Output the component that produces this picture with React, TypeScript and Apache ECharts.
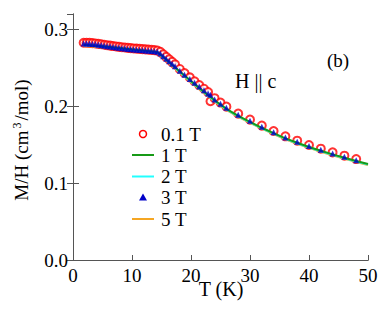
import React, { useEffect, useRef } from "react";
import * as echarts from "echarts";

// 0.1 T (open circles)
const t01 = [1.8, 2.3, 2.8, 3.3, 3.8, 4.3, 4.8, 5.3, 5.8, 6.3, 6.8, 7.3, 7.8, 8.3, 8.8, 9.3, 9.8, 10.3, 10.8, 11.3, 11.8, 12.3, 12.8, 13.3, 13.8, 14.3, 14.8, 15.3, 15.8, 16.3, 16.8, 17.3,
  18.1, 18.9, 19.8, 20.6, 21.4, 22.2, 22.9, 23.3, 24.0, 25.0, 26.0, 28, 30, 32, 34, 36, 38, 40, 42, 44, 46, 48];
const m01 = [0.2826, 0.2826, 0.2824, 0.2821, 0.2817, 0.2812, 0.2806, 0.2800, 0.2794, 0.2788, 0.2783, 0.2778, 0.2773, 0.2768, 0.2764, 0.2760, 0.2756, 0.2752, 0.2749, 0.2746, 0.2743, 0.2740, 0.2737, 0.2734, 0.2730, 0.2724, 0.2708, 0.2676, 0.2642, 0.2610, 0.2577, 0.2544,
  0.2485, 0.2432, 0.2375, 0.2325, 0.2275, 0.2228, 0.2184, 0.2065, 0.2105, 0.2048, 0.1995, 0.1904, 0.1826, 0.1748, 0.1678, 0.1609, 0.1552, 0.1496, 0.1448, 0.1400, 0.1357, 0.1313];

// 3 T (filled triangles)
const t3 = t01;
const m3 = [0.2815, 0.2815, 0.2813, 0.2810, 0.2806, 0.2800, 0.2794, 0.2788, 0.2782, 0.2776, 0.2770, 0.2765, 0.2760, 0.2755, 0.2750, 0.2746, 0.2742, 0.2738, 0.2734, 0.2731, 0.2727, 0.2724, 0.2721, 0.2718, 0.2714, 0.2708, 0.2686, 0.2652, 0.2618, 0.2585, 0.2552, 0.2519,
  0.2462, 0.2410, 0.2354, 0.2305, 0.2256, 0.2209, 0.2166, 0.2150, 0.2088, 0.2031, 0.1980, 0.1889, 0.1811, 0.1733, 0.1663, 0.1595, 0.1538, 0.1482, 0.1434, 0.1386, 0.1343, 0.1299];

// lines 1 T, 2 T, 5 T
const tLine = [1.8, 3, 5, 7, 9, 11, 13, 14.3, 15, 16, 17, 18, 20, 22, 24, 26, 28, 30, 32, 34, 36, 38, 40, 42, 44, 46, 48, 50];
const m1 = [0.2800, 0.2795, 0.2782, 0.2765, 0.2747, 0.2731, 0.2716, 0.2705, 0.2662, 0.2596, 0.2527, 0.2458, 0.2327, 0.2200, 0.2077, 0.1967, 0.1876, 0.1798, 0.1720, 0.1650, 0.1582, 0.1525, 0.1470, 0.1421, 0.1374, 0.1330, 0.1287, 0.1248];
const m2 = [0.2792, 0.2787, 0.2774, 0.2757, 0.2739, 0.2723, 0.2708, 0.2697, 0.2654, 0.2588, 0.2519, 0.2450, 0.2319, 0.2192, 0.2069, 0.1959, 0.1868, 0.1790, 0.1713, 0.1643, 0.1575, 0.1518, 0.1463, 0.1414, 0.1367, 0.1323, 0.1281, 0.1242];
const m5 = [0.2783, 0.2778, 0.2765, 0.2748, 0.2730, 0.2714, 0.2699, 0.2688, 0.2645, 0.2579, 0.2510, 0.2441, 0.2312, 0.2185, 0.2063, 0.1953, 0.1863, 0.1785, 0.1708, 0.1638, 0.1570, 0.1513, 0.1458, 0.1409, 0.1362, 0.1318, 0.1276, 0.1236];

const xTicks = [0, 10, 20, 30, 40, 50];
const yTicks = [0.0, 0.1, 0.2, 0.3];
const legendNames = ["0.1 T", "1 T", "2 T", "3 T", "5 T"];
const xTitle = "T (K)";
const yTitle = "M/H (cm{sup|3}/mol)";

const RED = "#ff0000";
const GREEN = "#179a17";
const CYAN = "#22ffff";
const BLUE = "#0000c8";
const ORANGE = "#f5a623";

const zip = (a: number[], b: number[]) => a.map((x, i) => [x, b[i]]);

const FONT = "Liberation Serif";
const AX = "#555";

export default function App() {
  const ref = useRef<HTMLDivElement>(null);
  useEffect(() => {
    const chart = echarts.init(ref.current!, null, { renderer: "svg" });
    const labelStyle = { fontFamily: FONT, fontSize: 19, color: "#000" };
    const lx = 132, lw = 22, tx = 161;
    const rowY = [134, 155, 176.5, 197.5, 219];
    const legendGraphics: any[] = [
      { type: "circle", shape: { cx: lx + lw / 2, cy: rowY[0], r: 3.5 }, style: { fill: "none", stroke: RED, lineWidth: 1.5 } },
      { type: "line", shape: { x1: lx, y1: rowY[1], x2: lx + lw, y2: rowY[1] }, style: { stroke: GREEN, lineWidth: 2 } },
      { type: "line", shape: { x1: lx, y1: rowY[2], x2: lx + lw, y2: rowY[2] }, style: { stroke: CYAN, lineWidth: 2 } },
      { type: "polygon", shape: { points: [[lx + lw / 2, rowY[3] - 4], [lx + lw / 2 + 4, rowY[3] + 3], [lx + lw / 2 - 4, rowY[3] + 3]] }, style: { fill: BLUE } },
      { type: "line", shape: { x1: lx, y1: rowY[4], x2: lx + lw, y2: rowY[4] }, style: { stroke: ORANGE, lineWidth: 2 } },
      ...legendNames.map((n, i) => ({
        type: "text", x: tx, y: rowY[i],
        style: { text: n, font: `19px "${FONT}"`, fill: "#000", verticalAlign: "middle", align: "left" },
      })),
    ];
    chart.setOption({
      animation: false,
      grid: { left: 73, right: 20, top: 14, bottom: 61 },
      xAxis: [
        {
          type: "value", min: xTicks[0], max: xTicks[xTicks.length - 1], interval: 10,
          axisLine: { lineStyle: { color: AX, width: 1 } },
          axisTick: { inside: true, length: 5, lineStyle: { color: AX } },
          splitLine: { show: false },
          axisLabel: { ...labelStyle, margin: 6 },
        },
        {
          type: "value", position: "top", min: 0, max: 50, interval: 10,
          axisLine: { show: true, lineStyle: { color: AX, width: 1 } },
          axisTick: { show: false }, axisLabel: { show: false }, splitLine: { show: false },
        },
      ],
      yAxis: [
        {
          type: "value", min: 0, max: 0.32, interval: 0.1,
          axisLine: { show: true, lineStyle: { color: AX, width: 1 } },
          axisTick: { inside: true, length: 6, lineStyle: { color: AX } },
          splitLine: { show: false },
          axisLabel: { ...labelStyle, margin: 5, showMaxLabel: false, formatter: (v: number) => (yTicks.some((t) => Math.abs(t - v) < 1e-6) ? v.toFixed(1) : "") },
        },
        {
          type: "value", position: "right", min: 0, max: 0.32, interval: 0.1,
          axisLine: { show: true, lineStyle: { color: AX, width: 1 } },
          axisTick: { inside: true, length: 6, lineStyle: { color: AX } },
          axisLabel: { show: false }, splitLine: { show: false },
        },
      ],
      graphic: [
        { type: "text", x: 221, y: 289, style: { text: xTitle, font: `20px "${FONT}"`, fill: "#000", align: "center", verticalAlign: "middle" } },
        {
          type: "text", x: 21, y: 140, rotation: Math.PI / 2,
          style: {
            text: yTitle, font: `19px "${FONT}"`, fill: "#000", align: "center", verticalAlign: "middle",
            rich: { sup: { font: `12px "${FONT}"`, fill: "#000", verticalAlign: "top", padding: [0, 2, 9, 2] } },
          },
        },
        { type: "text", left: 327, top: 51, style: { text: "(b)", font: `19px "${FONT}"`, fill: "#000" } },
        { type: "text", left: 235, top: 71, style: { text: "H || c", font: `20px "${FONT}"`, fill: "#000" } },
        ...legendGraphics,
      ],
      series: [
        {
          name: "0.1 T", type: "scatter", data: zip(t01, m01), symbol: "emptyCircle", symbolSize: 8,
          itemStyle: { color: RED, borderColor: RED, borderWidth: 1.5 }, z: 2,
        },
        {
          name: "5 T", type: "line", data: zip(tLine, m5), symbol: "none", smooth: false,
          lineStyle: { color: ORANGE, width: 2 }, z: 3,
        },
        {
          name: "2 T", type: "line", data: zip(tLine, m2), symbol: "none", smooth: false,
          lineStyle: { color: CYAN, width: 2 }, z: 4,
        },
        {
          name: "1 T", type: "line", data: zip(tLine, m1), symbol: "none", smooth: false,
          lineStyle: { color: GREEN, width: 2 }, z: 5,
        },
        {
          name: "3 T", type: "scatter", data: zip(t3, m3), symbol: "triangle", symbolSize: 6,
          itemStyle: { color: BLUE }, z: 6,
        },
      ],
    });
    return () => chart.dispose();
  }, []);
  return <div ref={ref} style={{ width: 388, height: 321, position: "absolute", left: 0, top: 0 }} />;
}
